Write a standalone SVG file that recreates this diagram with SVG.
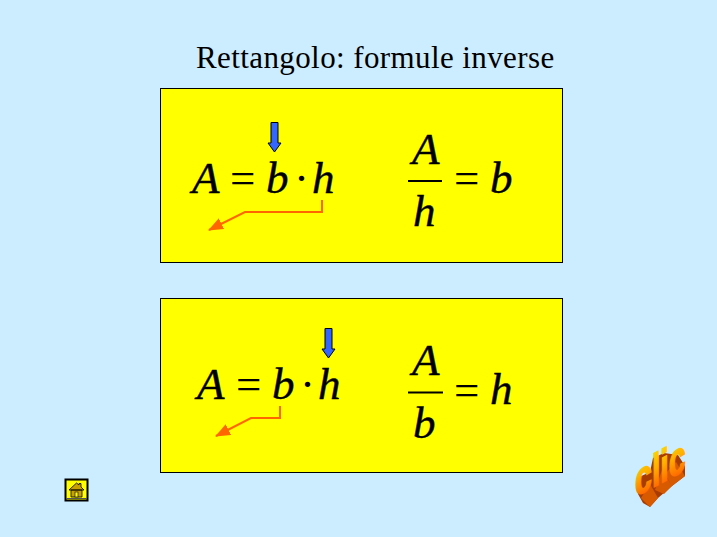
<svg xmlns="http://www.w3.org/2000/svg" width="717" height="537" viewBox="0 0 717 537">
<style>
.m{font-family:"Liberation Serif","Times New Roman",serif;font-size:45px;fill:#000}
.i{font-style:italic;stroke:#000;stroke-width:.4}
.box{fill:#ff0;stroke:#000;stroke-width:1}
.frac{stroke:#000;stroke-width:2;fill:none}
.blue{fill:#3366ff;stroke:#000;stroke-width:1}
.or{fill:none;stroke:#ff6600;stroke-width:2}
</style>
<defs>
<marker id="ah" markerWidth="16" markerHeight="14" refX="14" refY="6" orient="auto" markerUnits="userSpaceOnUse"><path d="M0 0L15 6L0 12Z" fill="#ff6600"/></marker>
<linearGradient id="cg" x1="0" y1="1" x2="0" y2="0"><stop offset="0" stop-color="#ff4a00"/><stop offset=".55" stop-color="#ffb000"/><stop offset="1" stop-color="#ffe000"/></linearGradient>
</defs>
<rect width="717" height="537" fill="#ccecff"/>
<text id="title" x="196" y="68" font-family="'Liberation Serif',serif" font-size="31" letter-spacing=".4" fill="#000">Rettangolo: formule inverse</text>
<g id="box1">
<rect class="box" x="160.500" y="88.500" width="402" height="174"/>
<text class="m i" x="192" y="193">A</text><text class="m" x="230" y="193">=</text><text class="m i" x="266" y="193">b</text><text class="m" x="294" y="193">·</text><text class="m i" x="312" y="193">h</text>
<text class="m i" x="412" y="164">A</text><line class="frac" x1="408" y1="181" x2="442" y2="181"/><text class="m i" x="413" y="226">h</text><text class="m" x="454" y="193">=</text><text class="m i" x="490" y="193">b</text>
<path class="blue" d="M271 122.500H278V143H281L274.500 152L268 143H271Z"/>
</g>
<g id="box2">
<rect class="box" x="160.500" y="298.500" width="402" height="174"/>
<text class="m i" x="197" y="399">A</text><text class="m" x="236" y="399">=</text><text class="m i" x="272" y="399">b</text><text class="m" x="300" y="399">·</text><text class="m i" x="318" y="399">h</text>
<text class="m i" x="412" y="375">A</text><line class="frac" x1="408" y1="392.500" x2="443" y2="392.500"/><text class="m i" x="413" y="438">b</text><text class="m" x="454" y="405">=</text><text class="m i" x="490" y="404">h</text>
<path class="blue" d="M325 328.500H332V349H335L328.500 358L322 349H325Z"/>
</g>
<g id="connectors">
<path class="or" marker-end="url(#ah)" d="M322 200V212H245L209 230"/>
<path class="or" marker-end="url(#ah)" d="M280 406V418H251L216 436"/>
</g>
<g id="home">
<rect x="65.500" y="479.500" width="22" height="21" fill="#ff0" stroke="#000" stroke-width="2"/>
<path d="M69 490L76.500 483L79 485V483.500H81V487L84 490ZM71 490H82V497H71Z" fill="#c8a000" stroke="#000" stroke-width=".8"/>
<rect x="75" y="492" width="3" height="5" fill="#ff0" stroke="#000" stroke-width=".6"/>
<line x1="66" y1="498.500" x2="87" y2="498.500" stroke="#555" stroke-width="1"/>
</g>
<g id="clic">
<path d="M637 478L650 472L653 458L664 453L678 455L685 466L685 476L672 486L665 492L658 498L650 507L643 503L638 494Z" fill="#a83c00"/>
<path d="M641 498L650 507L658 498L650 484ZM655 490L664 494L672 486L662 470ZM665 474L672 486L685 476L676 462Z" fill="#d85a00"/>
<text transform="translate(635 497) skewY(-28) scale(.66 1)" font-family="'Liberation Sans',sans-serif" font-weight="bold" font-size="46" fill="url(#cg)" stroke="url(#cg)" stroke-width="1.6">clic</text>
</g>
</svg>
